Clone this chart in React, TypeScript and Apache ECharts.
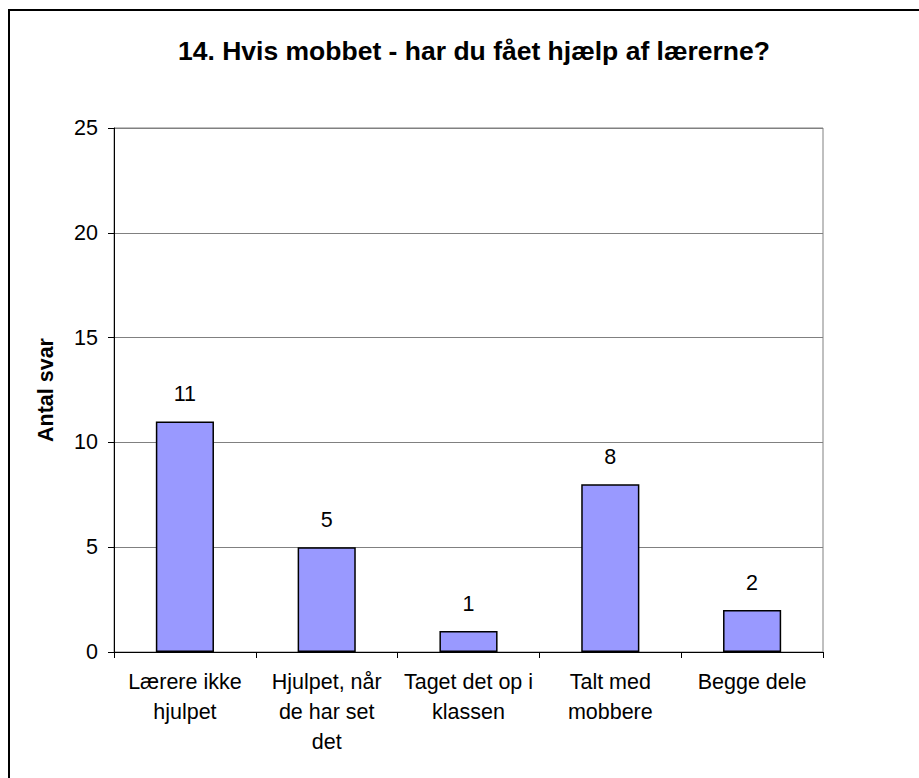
import React, { useEffect, useRef } from "react";
import * as echarts from "echarts";

const titleText = "14. Hvis mobbet - har du fået hjælp af lærerne?";
const yAxisName = "Antal svar";
const categories = [
  "Lærere ikke\nhjulpet",
  "Hjulpet, når\nde har set\ndet",
  "Taget det op i\nklassen",
  "Talt med\nmobbere",
  "Begge dele",
];
const values = [11, 5, 1, 8, 2];
const yMin = 0;
const yMax = 25;
const yInterval = 5;

const FONT = "'Liberation Sans', Arial, sans-serif";

export default function App() {
  const ref = useRef<HTMLDivElement>(null);
  useEffect(() => {
    if (!ref.current) return;
    const chart = echarts.init(ref.current, undefined, { renderer: "svg" });
    chart.setOption({
      animation: false,
      backgroundColor: "#ffffff",
      textStyle: { fontFamily: FONT, color: "#000" },
      title: {
        text: titleText,
        left: 469,
        top: 32,
        textAlign: "center",
        textStyle: { fontFamily: FONT, fontSize: 26.5, fontWeight: "bold", color: "#000" },
      },
      graphic: [
        {
          type: "rect",
          shape: { x: 9, y: 10, width: 1000, height: 1000 },
          style: { fill: "none", stroke: "#000", lineWidth: 2 },
          silent: true,
        },
      ],
      grid: {
        left: 114,
        right: 96,
        top: 128,
        bottom: 126,
        show: true,
        borderColor: "#808080",
        borderWidth: 1,
        backgroundColor: "transparent",
        containLabel: false,
      },
      xAxis: {
        type: "category",
        data: categories,
        boundaryGap: true,
        axisLine: { show: true, lineStyle: { color: "#000", width: 1 } },
        axisTick: { show: true, length: 6, interval: 0, lineStyle: { color: "#000" } },
        axisLabel: {
          interval: 0,
          margin: 15,
          fontSize: 21.5,
          lineHeight: 30,
          color: "#000",
          fontFamily: FONT,
        },
        splitLine: { show: false },
      },
      yAxis: {
        type: "value",
        min: yMin,
        max: yMax,
        interval: yInterval,
        name: yAxisName,
        nameLocation: "middle",
        nameGap: 57,
        nameRotate: 90,
        nameTextStyle: { fontFamily: FONT, fontSize: 21.5, fontWeight: "bold", color: "#000" },
        axisLine: { show: true, lineStyle: { color: "#000", width: 1 } },
        axisTick: { show: true, length: 6, lineStyle: { color: "#000" } },
        axisLabel: { margin: 16, fontSize: 21.5, color: "#000", fontFamily: FONT },
        splitLine: { show: true, lineStyle: { color: "#808080", width: 1 } },
      },
      series: [
        {
          type: "bar",
          data: values,
          barWidth: "41%",
          itemStyle: { color: "#9999FF", borderColor: "#000", borderWidth: 1.5 },
          label: {
            show: true,
            position: "top",
            distance: 16,
            fontSize: 21.5,
            color: "#000",
            fontFamily: FONT,
          },
        },
      ],
    });
    return () => chart.dispose();
  }, []);
  return (
    <div
      ref={ref}
      style={{ position: "fixed", left: 0, top: 0, width: 919, height: 778 }}
    />
  );
}
